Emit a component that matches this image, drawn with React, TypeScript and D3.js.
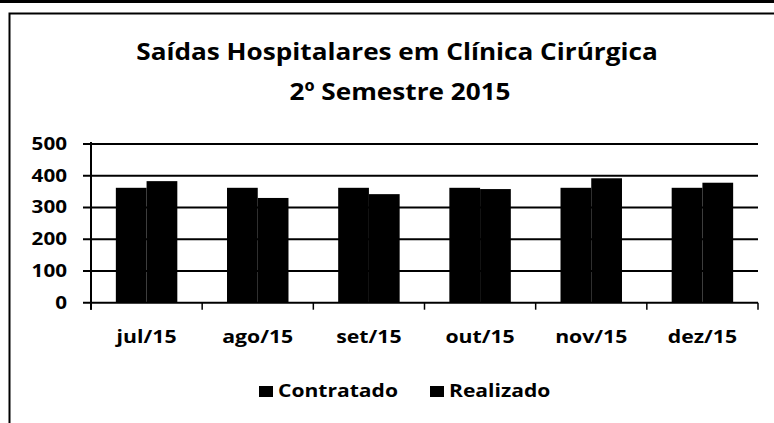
import React, { useEffect, useRef } from "react";
import * as d3 from "d3";

const months = ["jul/15", "ago/15", "set/15", "out/15", "nov/15", "dez/15"];
const contratado = [362, 362, 362, 362, 362, 362];
const realizado = [383, 330, 342, 358, 392, 378];
const seriesNames = ["Contratado", "Realizado"];
const yTicks = [0, 100, 200, 300, 400, 500];

export default function App() {
  const refElement = useRef<SVGSVGElement | null>(null);

  useEffect(() => {
    const el = refElement.current;
    if (!el) return;
    const svg = d3.select(el);
    svg.selectAll("*").remove();

    const W = 774,
      H = 423;
    const left = 91,
      right = 758,
      top = 144,
      bottom = 302.7;
    const stretch = 1.18;
    const font = "'Open Sans', sans-serif";

    // page frame
    svg.append("rect").attr("x", 0).attr("y", 0).attr("width", W).attr("height", 3).attr("fill", "#000");
    svg
      .append("path")
      .attr("d", `M9.5,${H} V13.5 H${W}`)
      .attr("fill", "none")
      .attr("stroke", "#000")
      .attr("stroke-width", 2);

    // title
    const title = svg
      .append("g")
      .attr("font-family", font)
      .attr("font-weight", 700)
      .attr("font-size", 24)
      .attr("text-anchor", "middle")
      .attr("fill", "#000");
    title
      .append("text")
      .attr("transform", "translate(397,60) scale(1.09,1)")
      .text("Saídas Hospitalares em Clínica Cirúrgica");
    title
      .append("text")
      .attr("transform", "translate(400,100) scale(1.09,1)")
      .text("2º Semestre 2015");

    const x = d3.scaleBand().domain(months).range([left, right]);
    const y = d3.scaleLinear().domain([0, 500]).range([bottom, top]);
    const groupW = x.bandwidth() * 0.553;
    const xs = d3
      .scaleBand()
      .domain(seriesNames)
      .range([(x.bandwidth() - groupW) / 2, (x.bandwidth() + groupW) / 2]);

    const chart = svg.append("g");

    // gridlines + left ticks
    chart
      .selectAll("line.grid")
      .data(yTicks.filter(d => d > 0))
      .join("line")
      .attr("class", "grid")
      .attr("x1", left - 8)
      .attr("x2", right)
      .attr("y1", d => y(d))
      .attr("y2", d => y(d))
      .attr("stroke", "#000")
      .attr("stroke-width", 2);

    // bars
    const rows = months.map((m, i) => ({ m, vals: [contratado[i], realizado[i]] }));
    const groups = chart
      .selectAll("g.grp")
      .data(rows)
      .join("g")
      .attr("class", "grp")
      .attr("transform", d => `translate(${x(d.m)},0)`);
    groups
      .selectAll("rect")
      .data(d => d.vals.map((v, j) => ({ k: seriesNames[j], v })))
      .join("rect")
      .attr("x", d => xs(d.k)!)
      .attr("width", xs.bandwidth())
      .attr("y", d => y(d.v))
      .attr("height", d => bottom - y(d.v))
      .attr("fill", "#000");

    // axes
    chart
      .append("line")
      .attr("x1", left)
      .attr("x2", left)
      .attr("y1", top - 2)
      .attr("y2", bottom + 7)
      .attr("stroke", "#000")
      .attr("stroke-width", 2);
    chart
      .append("line")
      .attr("x1", left - 8)
      .attr("x2", right)
      .attr("y1", bottom)
      .attr("y2", bottom)
      .attr("stroke", "#000")
      .attr("stroke-width", 2);
    chart
      .selectAll("line.xt")
      .data(months.map(m => x(m)!).concat([right]))
      .join("line")
      .attr("class", "xt")
      .attr("x1", d => d)
      .attr("x2", d => d)
      .attr("y1", bottom)
      .attr("y2", bottom + 7)
      .attr("stroke", "#000")
      .attr("stroke-width", 1.5);

    // y labels
    chart
      .selectAll("text.yl")
      .data(yTicks)
      .join("text")
      .attr("class", "yl")
      .attr("transform", d => `translate(67,${y(d) + 6}) scale(${stretch},1)`)
      .attr("text-anchor", "end")
      .attr("font-family", font)
      .attr("font-weight", 700)
      .attr("font-size", 17.5)
      .text(d => d);

    // x labels
    chart
      .selectAll("text.xl")
      .data(months)
      .join("text")
      .attr("class", "xl")
      .attr("transform", d => `translate(${x(d)! + x.bandwidth() / 2},343) scale(${stretch},1)`)
      .attr("text-anchor", "middle")
      .attr("font-family", font)
      .attr("font-weight", 700)
      .attr("font-size", 18)
      .text(d => d);

    // legend
    const legendX = [257, 428];
    const legend = svg
      .selectAll("g.lg")
      .data(seriesNames)
      .join("g")
      .attr("class", "lg")
      .attr("transform", (d, i) => `translate(${legendX[i]},0)`);
    legend
      .append("rect")
      .attr("x", 2)
      .attr("y", 386)
      .attr("width", 14)
      .attr("height", 11)
      .attr("fill", "#000");
    legend
      .append("text")
      .attr("transform", `translate(21,397) scale(1.24,1)`)
      .attr("font-family", font)
      .attr("font-weight", 700)
      .attr("font-size", 17)
      .text(d => d);

    return () => {
      svg.selectAll("*").remove();
    };
  });

  return (
    <svg
      ref={refElement}
      width={774}
      height={423}
      style={{ position: "absolute", left: 0, top: 0, background: "#fff" }}
    />
  );
}
